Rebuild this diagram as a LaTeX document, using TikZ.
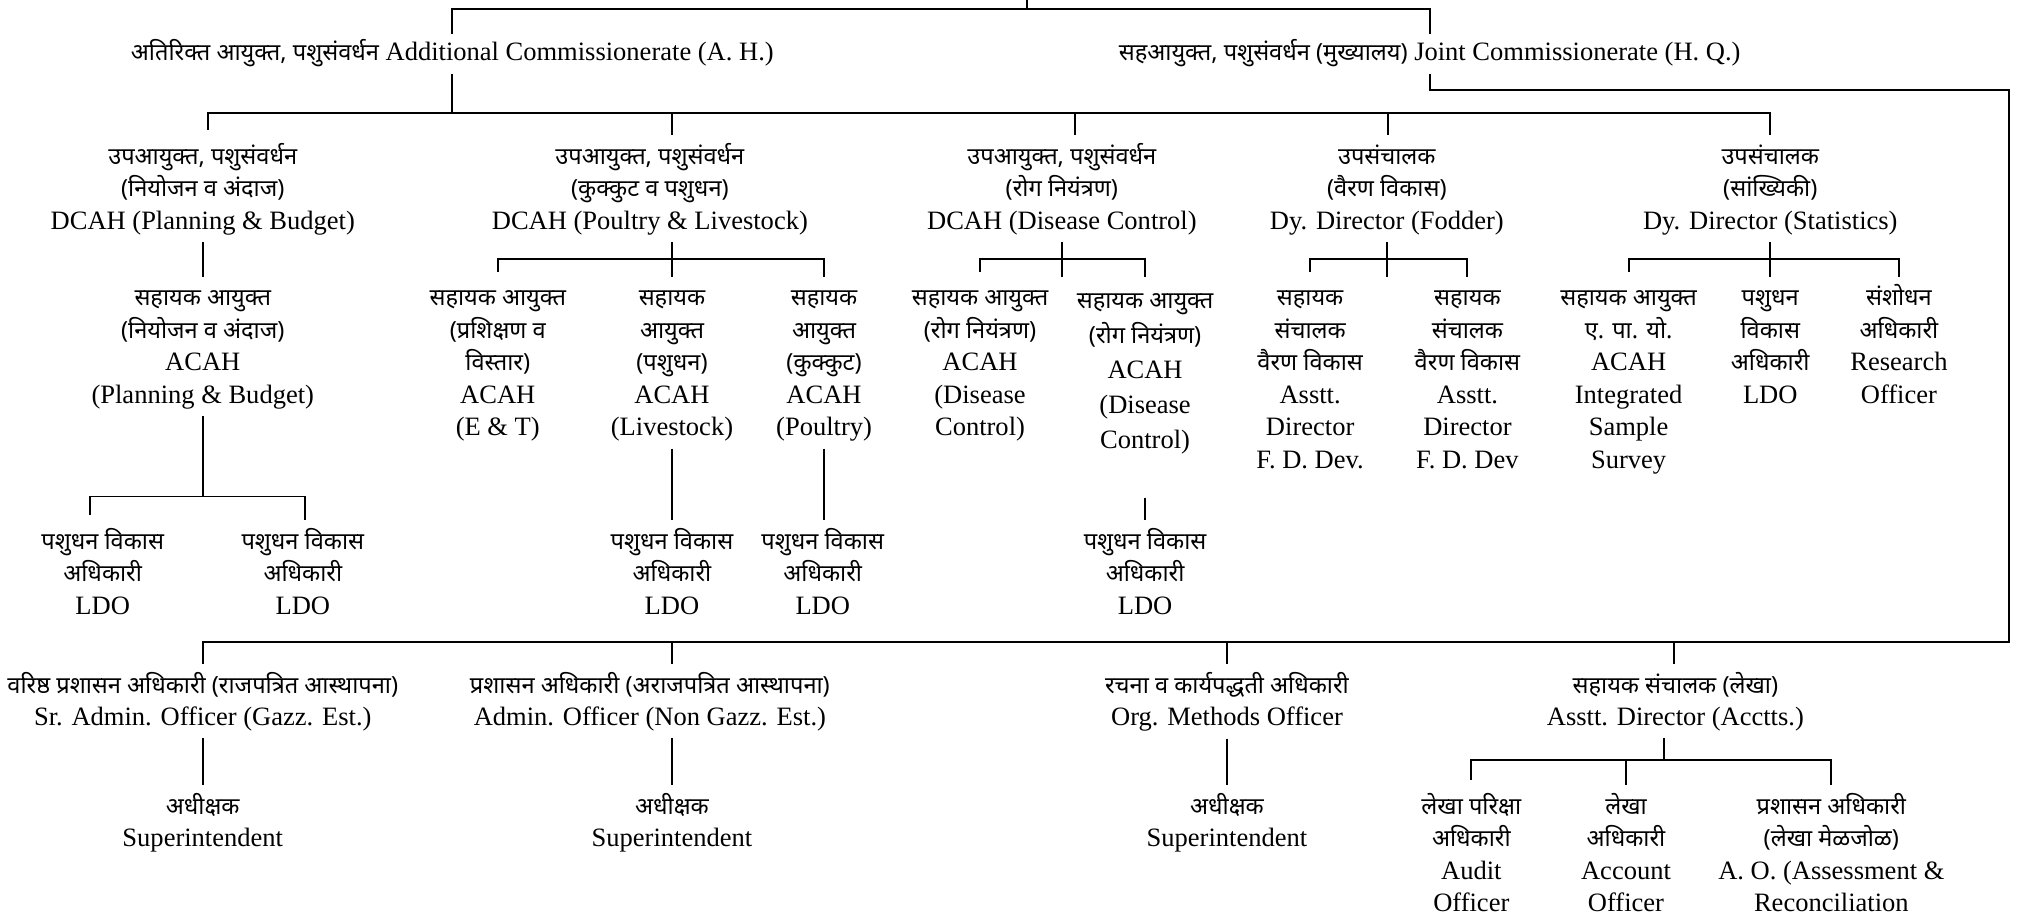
\documentclass[tikz,border=0pt]{standalone}
\usepackage{fontspec}
\setmainfont{Liberation Serif}
\newfontfamily\dvfont[Script=Devanagari,Scale=0.89]{Noto Sans}
\newcommand\dv[1]{{\dvfont\rule{0pt}{10.5pt}#1}}
\begin{document}
\begin{tikzpicture}[x=0.5pt,y=-0.5pt,
  lbl/.style={align=center, inner xsep=0pt, inner ysep=2.5pt, anchor=north,
    font={\fontsize{10.2}{12.5}\selectfont\lineskiplimit=-30pt\lineskip=0pt}},
  loose/.style={font={\fontsize{10.2}{13.5}\selectfont\lineskiplimit=-30pt\lineskip=0pt}},
  conn/.style={line width=0.75pt},
  down/.style={conn, shorten >=-2pt}]
\useasboundingbox (0,0) rectangle (1568,706);
% row 1
\node[lbl] (A) at (348,20) {\dv{अतिरिक्त आयुक्त, पशुसंवर्धन} Additional Commissionerate (A. H.)};
\node[lbl] (J) at (1100,20) {\dv{सहआयुक्त, पशुसंवर्धन (मुख्यालय)} Joint Commissionerate (H. Q.)};
% row 2
\node[lbl] (N1) at (156,100) {\dv{उपआयुक्त, पशुसंवर्धन}\\\dv{(नियोजन व अंदाज)}\\DCAH (Planning \& Budget)};
\node[lbl] (N2) at (500,100) {\dv{उपआयुक्त, पशुसंवर्धन}\\\dv{(कुक्कुट व पशुधन)}\\DCAH (Poultry \& Livestock)};
\node[lbl] (N3) at (817,100) {\dv{उपआयुक्त, पशुसंवर्धन}\\\dv{(रोग नियंत्रण)}\\DCAH (Disease Control)};
\node[lbl] (N4) at (1067,100) {\dv{उपसंचालक}\\\dv{(वैरण विकास)}\\Dy. Director (Fodder)};
\node[lbl] (N5) at (1362,100) {\dv{उपसंचालक}\\\dv{(सांख्यिकी)}\\Dy. Director (Statistics)};
% row 3
\node[lbl] (C1) at (156,209) {\dv{सहायक आयुक्त}\\\dv{(नियोजन व अंदाज)}\\ACAH\\(Planning \& Budget)};
\node[lbl] (C2) at (383,209) {\dv{सहायक आयुक्त}\\\dv{(प्रशिक्षण व}\\\dv{विस्तार)}\\ACAH\\(E \& T)};
\node[lbl] (C3) at (517,209) {\dv{सहायक}\\\dv{आयुक्त}\\\dv{(पशुधन)}\\ACAH\\(Livestock)};
\node[lbl] (C4) at (634,209) {\dv{सहायक}\\\dv{आयुक्त}\\\dv{(कुक्कुट)}\\ACAH\\(Poultry)};
\node[lbl] (C5) at (754,209) {\dv{सहायक आयुक्त}\\\dv{(रोग नियंत्रण)}\\ACAH\\(Disease\\Control)};
\node[lbl,loose] (C6) at (881,211) {\dv{सहायक आयुक्त}\\\dv{(रोग नियंत्रण)}\\ACAH\\(Disease\\Control)};
\node[lbl] (C7) at (1008,209) {\dv{सहायक}\\\dv{संचालक}\\\dv{वैरण विकास}\\Asstt.\\Director\\F. D. Dev.};
\node[lbl] (C8) at (1129,209) {\dv{सहायक}\\\dv{संचालक}\\\dv{वैरण विकास}\\Asstt.\\Director\\F. D. Dev};
\node[lbl] (C9) at (1253,209) {\dv{सहायक आयुक्त}\\\dv{ए. पा. यो.}\\ACAH\\Integrated\\Sample\\Survey};
\node[lbl] (C10) at (1362,209) {\dv{पशुधन}\\\dv{विकास}\\\dv{अधिकारी}\\LDO};
\node[lbl] (C11) at (1461,209) {\dv{संशोधन}\\\dv{अधिकारी}\\Research\\Officer};
% row 4
\node[lbl] (L1) at (79,396) {\dv{पशुधन विकास}\\\dv{अधिकारी}\\LDO};
\node[lbl] (L2) at (233,396) {\dv{पशुधन विकास}\\\dv{अधिकारी}\\LDO};
\node[lbl] (L3) at (517,396) {\dv{पशुधन विकास}\\\dv{अधिकारी}\\LDO};
\node[lbl] (L4) at (633,396) {\dv{पशुधन विकास}\\\dv{अधिकारी}\\LDO};
\node[lbl] (L5) at (881,396) {\dv{पशुधन विकास}\\\dv{अधिकारी}\\LDO};
% row 5
\node[lbl] (B1) at (156,507) {\dv{वरिष्ठ प्रशासन अधिकारी (राजपत्रित आस्थापना)}\\Sr. Admin. Officer (Gazz. Est.)};
\node[lbl] (B2) at (500,507) {\dv{प्रशासन अधिकारी (अराजपत्रित आस्थापना)}\\Admin. Officer (Non Gazz. Est.)};
\node[lbl] (B3) at (944,507) {\dv{रचना व कार्यपद्धती अधिकारी}\\Org. Methods Officer};
\node[lbl] (B4) at (1289,507) {\dv{सहायक संचालक (लेखा)}\\Asstt. Director (Acctts.)};
% row 6
\node[lbl] (S1) at (156,600) {\dv{अधीक्षक}\\Superintendent};
\node[lbl] (S2) at (517,600) {\dv{अधीक्षक}\\Superintendent};
\node[lbl] (S3) at (944,600) {\dv{अधीक्षक}\\Superintendent};
\node[lbl] (D1) at (1132,600) {\dv{लेखा परिक्षा}\\\dv{अधिकारी}\\Audit\\Officer};
\node[lbl] (D2) at (1251,600) {\dv{लेखा}\\\dv{अधिकारी}\\Account\\Officer};
\node[lbl] (D3) at (1409,600) {\dv{प्रशासन अधिकारी}\\\dv{(लेखा मेळजोळ)}\\A. O. (Assessment \&\\Reconciliation};
% connectors
\coordinate (top) at (790,0);
\coordinate (c6end) at (881,383);
\draw[conn] (top) -- (790,7);
\draw[conn, shorten <=-3pt, shorten >=-3pt] (A.north) -- (A.north |- 0,7) -| (J.north);
\draw[conn] (A.south) -- (A.south |- 0,87);
\draw[down] (N1.north -| 160,0) -- (160,87) -| (N5.north);
\draw[down] (517,87) -- (N2.north -| 517,0);
\draw[down] (827,87) -- (N3.north -| 827,0);
\draw[down] (1068,87) -- (N4.north -| 1068,0);
\draw[down] (J.south) |- (1546,69) -- (1546,494) -| (B1.north);
\draw[down] (517,494) -- (B2.north -| 517,0);
\draw[down] (944,494) -- (B3.north);
\draw[down] (1288,494) -- (B4.north -| 1288,0);
% row2 -> row3
\draw[down] (N1.south) -- (C1.north);
\draw[down] (N2.south -| 517,0) -- (C3.north);
\draw[down] (C2.north) -- (C2.north |- 0,199) -| (C4.north);
\draw[down] (N3.south) -- (N3.south |- C5.north);
\draw[down] (C5.north) -- (C5.north |- 0,199) -| (C6.north |- C5.north);
\draw[down] (N4.south) -- (N4.south |- C7.north);
\draw[down] (C7.north) -- (C7.north |- 0,199) -| (C8.north);
\draw[down] (N5.south) -- (C10.north);
\draw[down] (C9.north) -- (C9.north |- 0,199) -| (C11.north);
% row3 -> row4
\draw[conn] (C1.south) -- (C1.south |- 0,382);
\draw[down] (L1.north -| 69,0) -- (69,382) -| (L2.north -| 235,0);
\draw[down] (C3.south) -- (L3.north);
\draw[down] (C4.south) -- (C4.south |- L4.north);
\draw[down] (c6end) -- (L5.north);
% row5 -> row6
\draw[down] (B1.south) -- (S1.north);
\draw[down] (B2.south -| 517,0) -- (S2.north);
\draw[down] (B3.south) -- (S3.north);
\draw[conn] (B4.south -| 1280,0) -- (1280,585);
\draw[down] (D1.north) -- (D1.north |- 0,585) -| (D3.north);
\draw[down] (1251,585) -- (D2.north);
\end{tikzpicture}
\end{document}
